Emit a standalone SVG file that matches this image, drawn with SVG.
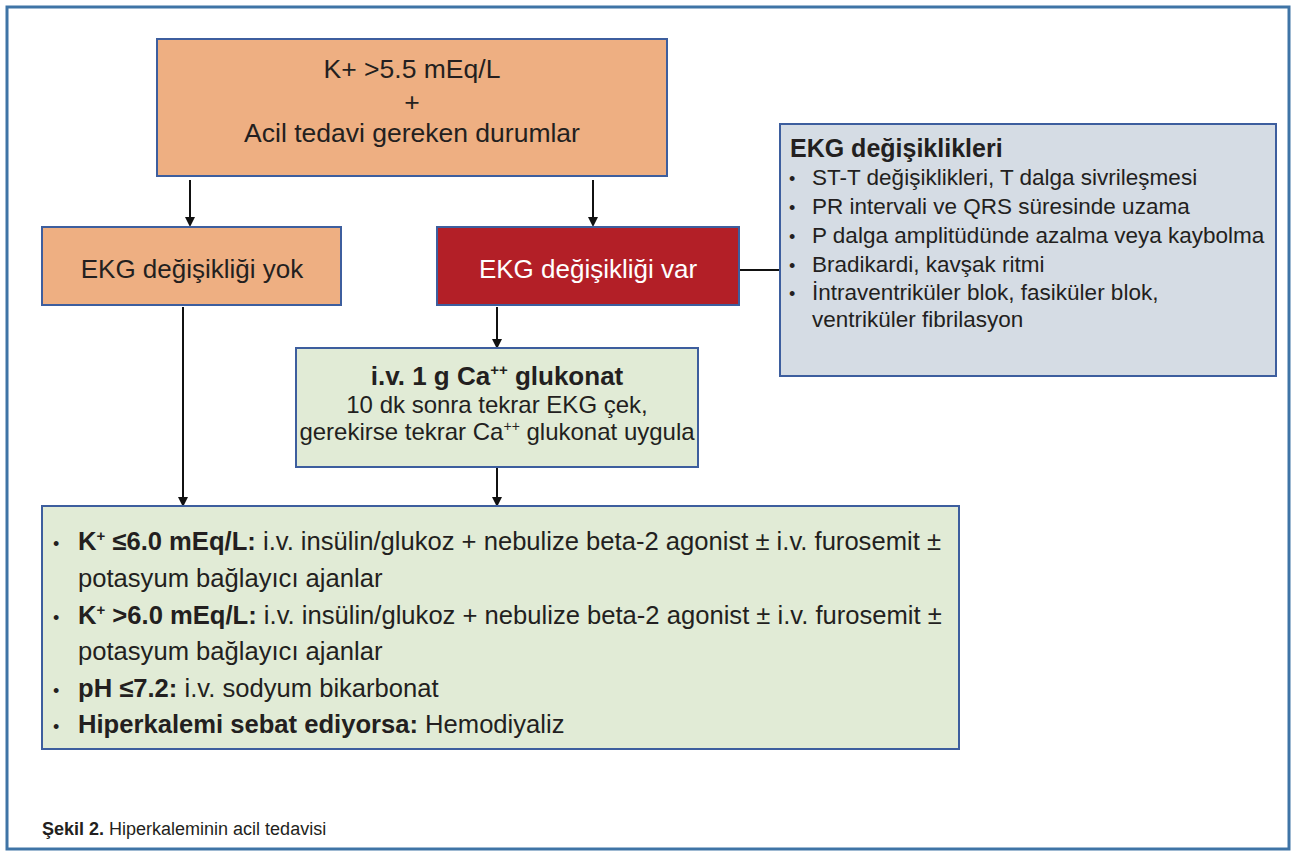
<svg xmlns="http://www.w3.org/2000/svg" width="1296" height="852" viewBox="0 0 1296 852">
<defs>
<marker id="ah" markerWidth="10" markerHeight="10" refX="5" refY="5" orient="auto" markerUnits="userSpaceOnUse"><path d="M0,0 L10,5 L0,10 z" fill="#111"/></marker>
<style>
text{font-family:"Liberation Sans",Arial,sans-serif;fill:#231f20}
.bx{stroke:#3d5e9e;stroke-width:2}
.or{fill:#eeaf82}
.gr{fill:#e1ebd6}
.bl{fill:#d5dce4}
.c{stroke:#111;stroke-width:2;fill:none}
.b{font-weight:bold}
</style>
</defs>
<rect x="7" y="7" width="1282" height="842" fill="#fff" stroke="#3f74a6" stroke-width="3"/>
<g id="connectors">
<line class="c" x1="190" y1="180" x2="190" y2="222" marker-end="url(#ah)"/>
<line class="c" x1="593" y1="180" x2="593" y2="222" marker-end="url(#ah)"/>
<line class="c" x1="497" y1="307" x2="497" y2="344" marker-end="url(#ah)"/>
<line class="c" x1="497" y1="467" x2="497" y2="502" marker-end="url(#ah)"/>
<line class="c" x1="183" y1="307" x2="183" y2="502" marker-end="url(#ah)"/>
<line class="c" x1="739" y1="270" x2="780" y2="270"/>
</g>
<g id="start">
<rect class="bx or" x="157" y="39" width="510" height="137"/>
<text x="412" y="78" font-size="26.5" text-anchor="middle">K+ &gt;5.5 mEq/L</text>
<text x="412" y="111" font-size="26.5" text-anchor="middle">+</text>
<text x="412" y="142" font-size="26.5" text-anchor="middle">Acil tedavi gereken durumlar</text>
</g>
<g id="no-ekg">
<rect class="bx or" x="42" y="227" width="299" height="78"/>
<text x="192" y="278" font-size="26" text-anchor="middle">EKG değişikliği yok</text>
</g>
<g id="ekg-var">
<rect class="bx" fill="#b31f27" x="437" y="227" width="302" height="78"/>
<text x="588" y="278" font-size="26" text-anchor="middle" style="fill:#fff">EKG değişikliği var</text>
</g>
<g id="ekg-list">
<rect class="bx bl" x="780" y="124" width="496" height="252"/>
<text x="790" y="157" font-size="25" class="b">EKG değişiklikleri</text>
<g font-size="22.5">
<text x="789" y="185" font-size="18">•</text><text x="812" y="185">ST-T değişiklikleri, T dalga sivrileşmesi</text>
<text x="789" y="214" font-size="18">•</text><text x="812" y="214">PR intervali ve QRS süresinde uzama</text>
<text x="789" y="243" font-size="18">•</text><text x="812" y="243">P dalga amplitüdünde azalma veya kaybolma</text>
<text x="789" y="272" font-size="18">•</text><text x="812" y="272">Bradikardi, kavşak ritmi</text>
<text x="789" y="300" font-size="18">•</text><text x="812" y="300">İntraventriküler blok, fasiküler blok,</text>
<text x="812" y="327">ventriküler fibrilasyon</text>
</g>
</g>
<g id="calcium">
<rect class="bx gr" x="296" y="348" width="402" height="119"/>
<text x="497" y="385" font-size="26" text-anchor="middle" class="b">i.v. 1 g Ca<tspan font-size="15" dy="-10">++</tspan><tspan dy="10"> glukonat</tspan></text>
<text x="497" y="413" font-size="24" text-anchor="middle">10 dk sonra tekrar EKG çek,</text>
<text x="497" y="440" font-size="24" text-anchor="middle">gerekirse tekrar Ca<tspan font-size="14" dy="-9">++</tspan><tspan dy="9"> glukonat uygula</tspan></text>
</g>
<g id="treatment">
<rect class="bx gr" x="42" y="506" width="917" height="243"/>
<g font-size="25.6">
<text x="53" y="550" font-size="18">•</text><text x="78" y="550"><tspan class="b">K<tspan font-size="15" dy="-9">+</tspan><tspan dy="9"> ≤6.0 mEq/L:</tspan></tspan> i.v. insülin/glukoz + nebulize beta-2 agonist ± i.v. furosemit ±</text>
<text x="78" y="587">potasyum bağlayıcı ajanlar</text>
<text x="53" y="624" font-size="18">•</text><text x="78" y="624"><tspan class="b">K<tspan font-size="15" dy="-9">+</tspan><tspan dy="9"> &gt;6.0 mEq/L:</tspan></tspan> i.v. insülin/glukoz + nebulize beta-2 agonist ± i.v. furosemit ±</text>
<text x="78" y="660">potasyum bağlayıcı ajanlar</text>
<text x="53" y="697" font-size="18">•</text><text x="78" y="697"><tspan class="b">pH ≤7.2:</tspan> i.v. sodyum bikarbonat</text>
<text x="53" y="733" font-size="18">•</text><text x="78" y="733"><tspan class="b">Hiperkalemi sebat ediyorsa:</tspan> Hemodiyaliz</text>
</g>
</g>
<text x="42" y="835" font-size="18"><tspan class="b">Şekil 2.</tspan> Hiperkaleminin acil tedavisi</text>
</svg>
